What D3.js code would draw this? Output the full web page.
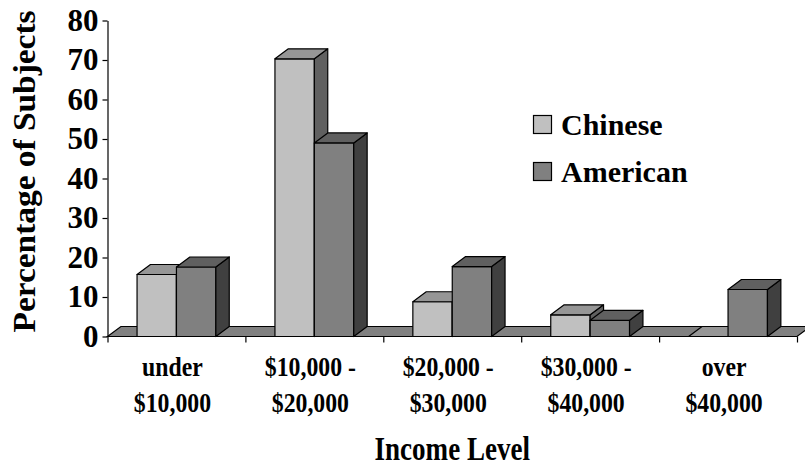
<!DOCTYPE html>
<html>
<head>
<meta charset="utf-8">
<script src="https://cdn.jsdelivr.net/npm/d3@7"></script>
<style>
  html, body { margin: 0; padding: 0; background: #fff; }
  svg { display: block; }
  text { font-family: "Liberation Serif", "Times New Roman", serif; font-weight: bold; fill: #000; }
</style>
</head>
<body>
<svg id="chart" width="805" height="468"></svg>
<script>
// Income distribution of subjects, by nationality
const categories = ["under $10,000", "$10,000 - $20,000", "$20,000 - $30,000", "$30,000 - $40,000", "over $40,000"];
const labelLines = [["under", "$10,000"], ["$10,000 -", "$20,000"], ["$20,000 -", "$30,000"], ["$30,000 -", "$40,000"], ["over", "$40,000"]];
const seriesNames = ["Chinese", "American"];
const chinese = [15.7, 70.3, 8.8, 5.5, 0];
const american = [17.6, 49.0, 17.7, 4.1, 11.9];
const yTicks = [0, 10, 20, 30, 40, 50, 60, 70, 80];

const shades = {
  Chinese:  { front: "#c0c0c0", top: "#969696", side: "#606060" },
  American: { front: "#808080", top: "#606060", side: "#404040" }
};

const svg = d3.select("#chart");
const depth = { dx: 13.4, dy: -10 };

const y = d3.scaleLinear().domain([0, 80]).range([336.5, 20.5]);
const xEdge = d3.scaleLinear().domain([0, categories.length]).range([107.5, 797]);
const x = d3.scaleBand().domain(categories).range([107.5, 797]).padding(0);
const xSeries = d3.scaleBand().domain(seriesNames).range([0, x.bandwidth()])
  .paddingInner(0).paddingOuter(0.75);

const y0 = y(0);
const pts = a => a.map(p => p.join(",")).join(" ");

// floor
const fx0 = xEdge(0), fx1 = xEdge(categories.length);
svg.append("polygon")
  .attr("points", pts([[fx0, y0], [fx0 + depth.dx, y0 + depth.dy], [fx1 + depth.dx, y0 + depth.dy], [fx1, y0]]))
  .attr("fill", "#808080").attr("stroke", "#000").attr("stroke-width", 1.2);

// bars: front face, right side, top
const rows = categories.map((c, i) => ({ c, Chinese: chinese[i], American: american[i] }));
const bars = svg.append("g");
rows.forEach(r => {
  seriesNames.forEach(s => {
    const v = r[s];
    const bx = x(r.c) + xSeries(s);
    const bw = xSeries.bandwidth();
    const yv = y(v);
    const g = bars.append("g").attr("stroke", "#000").attr("stroke-width", 1.2).attr("stroke-linejoin", "round");
    if (v > 0) {
      g.append("rect").attr("x", bx).attr("y", yv).attr("width", bw).attr("height", y0 - yv)
        .attr("fill", shades[s].front);
      g.append("polygon")
        .attr("points", pts([[bx + bw, yv], [bx + bw + depth.dx, yv + depth.dy], [bx + bw + depth.dx, y0 + depth.dy], [bx + bw, y0]]))
        .attr("fill", shades[s].side);
    }
    g.append("polygon")
      .attr("points", pts([[bx, yv], [bx + depth.dx, yv + depth.dy], [bx + bw + depth.dx, yv + depth.dy], [bx + bw, yv]]))
      .attr("fill", shades[s].top);
  });
});

// value axis
const yAxis = svg.append("g").attr("transform", "translate(107.5,0)")
  .call(d3.axisLeft(y).tickValues(yTicks).tickSize(5).tickSizeOuter(0).tickPadding(4));
yAxis.select(".domain").attr("stroke", "#000").attr("stroke-width", 1.2);
yAxis.selectAll(".tick line").attr("stroke", "#000").attr("stroke-width", 1.2);
yAxis.selectAll(".tick text").attr("font-size", 31).attr("font-family", "Liberation Serif").attr("font-weight", "bold").attr("fill", "#000");

// category tick marks
const xAxis = svg.append("g").attr("transform", `translate(0,${y0})`)
  .call(d3.axisBottom(xEdge).tickValues(d3.range(categories.length + 1)).tickSize(6).tickFormat(""));
xAxis.select(".domain").remove();
xAxis.selectAll(".tick line").attr("stroke", "#000").attr("stroke-width", 1.2);

// category labels (two lines each, slightly condensed)
const catLabels = svg.append("g");
categories.forEach((c, i) => {
  const cx = x(c) + x.bandwidth() / 2 - 4;
  labelLines[i].forEach((line, j) => {
    catLabels.append("text")
      .attr("transform", `translate(${cx},${j === 0 ? 376 : 412}) scale(0.88,1)`)
      .attr("text-anchor", "middle").attr("font-size", 27)
      .text(line);
  });
});

// axis titles
svg.append("text")
  .attr("transform", `translate(${(xEdge(0) + xEdge(categories.length)) / 2},460) scale(0.82,1)`)
  .attr("text-anchor", "middle").attr("font-size", 33)
  .text("Income Level");

svg.append("text")
  .attr("transform", "translate(35,171.5) rotate(-90)")
  .attr("text-anchor", "middle").attr("font-size", 31)
  .attr("textLength", 322).attr("lengthAdjust", "spacingAndGlyphs")
  .text("Percentage of Subjects");

// legend
const legend = svg.append("g");
seriesNames.forEach((s, i) => {
  const ly = 115 + i * 47;
  legend.append("rect").attr("x", 533.5).attr("y", ly + 0.5).attr("width", 18).attr("height", 18)
    .attr("fill", shades[s].front).attr("stroke", "#000").attr("stroke-width", 1.2);
  legend.append("text").attr("x", 561).attr("y", ly + 20).attr("font-size", 30).text(s);
});
</script>
</body>
</html>
